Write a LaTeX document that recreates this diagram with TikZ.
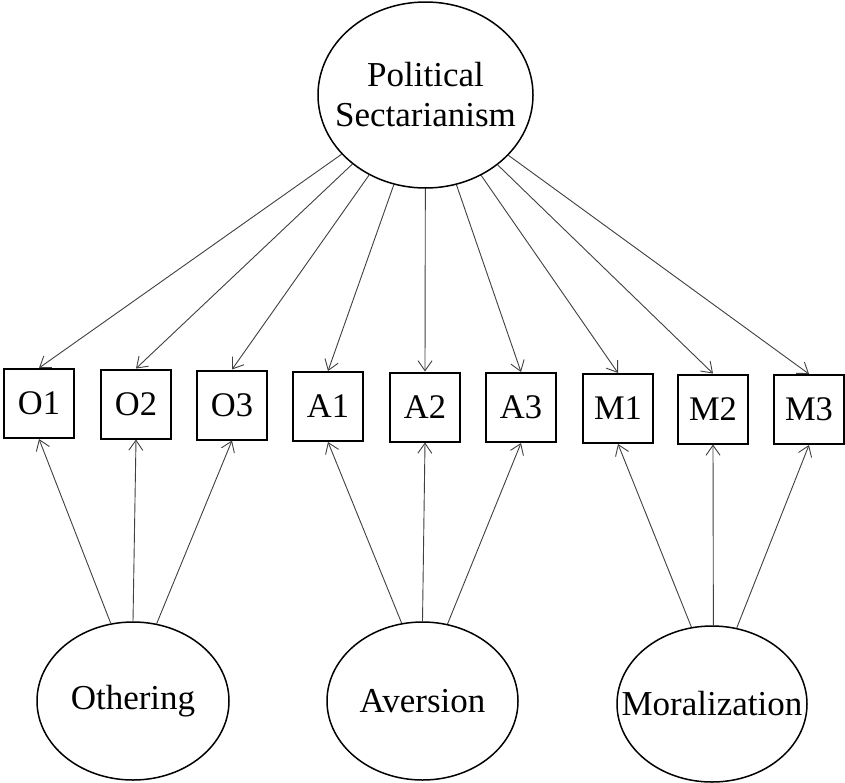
\documentclass[tikz,border=0pt]{standalone}
\usepackage{fontspec}
\setmainfont{Liberation Serif}
\usetikzlibrary{shapes.geometric,arrows.meta}
\begin{document}
\begin{tikzpicture}[x=1pt,y=-1pt,
  latent/.style={ellipse,draw=black,line width=1.5pt,inner sep=0pt,fill=white},
  ltext/.style={inner sep=0pt,font=\fontsize{35}{40}\selectfont,align=center},
  indic/.style={rectangle,draw=black,line width=2pt,inner sep=0pt,
    minimum width=70pt,minimum height=69pt,font=\fontsize{34.5}{38}\selectfont},
  path/.style={draw=black!75,line width=0.9pt,-{Straight Barb[length=10pt,width=14pt,line width=0.9pt]}}
]
\useasboundingbox (0,0) rectangle (845,782);
\fill[white] (0,0) rectangle (845,782);

\node[latent,minimum width=215pt,minimum height=186pt] (ps) at (425.5,95) {};
\node[ltext] (pst) at (ps.center) {Political\\Sectarianism};

\node[indic] (O1) at (39,403.5) {O1};
\node[indic] (O2) at (136,404) {O2};
\node[indic] (O3) at (232,405) {O3};
\node[indic] (A1) at (328,406.5) {A1};
\node[indic] (A2) at (425,407) {A2};
\node[indic] (A3) at (521,407.5) {A3};
\node[indic] (M1) at (618,408.5) {M1};
\node[indic] (M2) at (713,409) {M2};
\node[indic] (M3) at (809,409.5) {M3};

\node[latent,minimum width=192pt,minimum height=158pt] (oth) at (133,701) {};
\node[ltext] (otht) at (oth.center) {Othering};
\node[latent,minimum width=191pt,minimum height=158pt] (ave) at (422.5,701) {};
\node[ltext] (avet) at (ave.center) {Aversion};
\node[latent,minimum width=190pt,minimum height=156pt] (mor) at (712,704) {};
\node[ltext] (mort) at (mor.center) {Moralization};

\foreach \n in {O1,O2,O3,A1,A2,A3,M1,M2,M3}
  \draw[path] (ps) -- (\n.north);

\draw[path] (oth.106) -- (O1.south);
\draw[path] (oth.90) -- (O2.south);
\draw[path] (oth.73) -- (O3.south);
\draw[path] (ave.105) -- (A1.south);
\draw[path] (ave.90) -- (A2.south);
\draw[path] (ave.72) -- (A3.south);
\draw[path] (mor.105) -- (M1.south);
\draw[path] (mor.89) -- (M2.south);
\draw[path] (mor.72) -- (M3.south);
\end{tikzpicture}
\end{document}
